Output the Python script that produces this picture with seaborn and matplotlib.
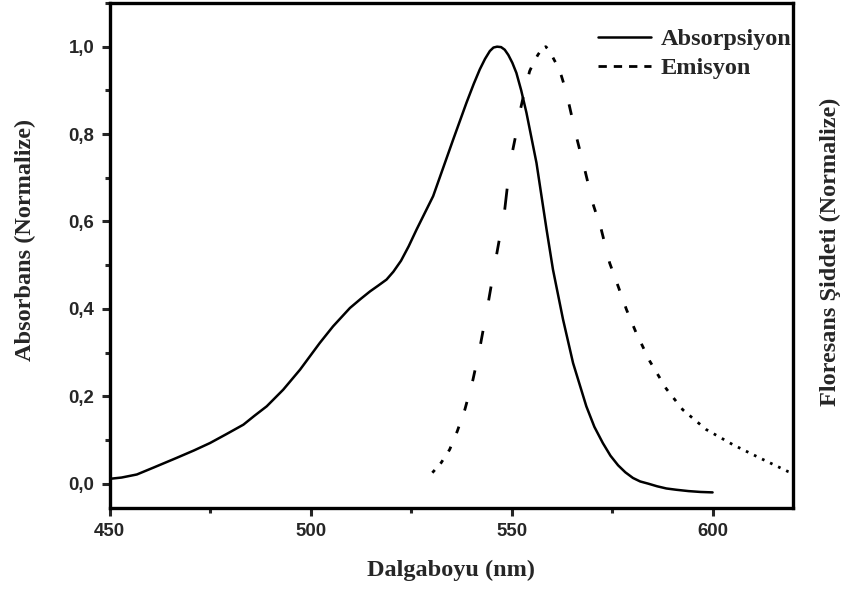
import os
import numpy as np
import pandas as pd
import matplotlib
matplotlib.use("Agg")
import matplotlib.pyplot as plt
from matplotlib import font_manager as fm
from matplotlib.lines import Line2D
from matplotlib.ticker import MultipleLocator, FuncFormatter
import seaborn as sns

# Normalized absorption spectrum
abs_wl = [450, 453, 456.8, 461, 466.7, 471, 475, 479, 483.3, 486, 489.1, 493.2,
          497.4, 502.3, 505.6, 509.8, 512.5, 514.8, 516.8, 518.9, 520.6, 522.5,
          524.4, 526.4, 530.5, 535.5, 538.8, 540.6, 542.1, 543.4, 544.6, 545.5,
          546.4, 547.4, 548.3, 549.2, 550.2, 551.2, 552.4, 553.7, 556.2, 558.7,
          560.3, 562.8, 565.3, 568.6, 570.6, 572.7, 574.6, 576.5, 578.3, 580.2,
          582, 584, 586.2, 588.5, 591, 594, 597, 600]
abs_val = [0.011, 0.014, 0.021, 0.037, 0.059, 0.076, 0.093, 0.113, 0.135, 0.155,
           0.177, 0.215, 0.261, 0.322, 0.36, 0.402, 0.423, 0.44, 0.453, 0.467,
           0.485, 0.51, 0.543, 0.582, 0.658, 0.788, 0.872, 0.915, 0.948, 0.972,
           0.99, 0.998, 1.0, 0.999, 0.993, 0.981, 0.963, 0.94, 0.9, 0.849,
           0.734, 0.582, 0.49, 0.376, 0.276, 0.177, 0.13, 0.093, 0.064, 0.042,
           0.026, 0.013, 0.005, 0.0, -0.006, -0.011, -0.014, -0.017, -0.019, -0.02]

# Normalized emission spectrum
em_wl = [530.3, 532.5, 534.6, 536.5, 538.4, 540.4, 542.1, 544.2, 546.2, 547.1,
         548.3, 548.9, 550, 551, 552.2, 553.4, 554.5, 555.6, 556.6, 557.6,
         558.5, 559.4, 560.3, 561.4, 562.4, 563.5, 564.5, 566.1, 568.2, 570.3,
         572.3, 574.4, 576.5, 578.6, 581, 584.4, 588.5, 592.6, 598.4, 605.1,
         611.7, 618.7, 620]
em_val = [0.025, 0.048, 0.078, 0.12, 0.17, 0.238, 0.31, 0.414, 0.52, 0.566,
          0.627, 0.675, 0.75, 0.795, 0.856, 0.905, 0.944, 0.966, 0.982, 0.995,
          1.0, 0.992, 0.975, 0.956, 0.933, 0.9, 0.86, 0.795, 0.719, 0.639,
          0.582, 0.505, 0.452, 0.398, 0.345, 0.28, 0.217, 0.169, 0.124, 0.089,
          0.059, 0.028, 0.024]

x_ticks = [450, 500, 550, 600]
y_ticks = [0.0, 0.2, 0.4, 0.6, 0.8, 1.0]


def font_file(name):
    for path in fm.findSystemFonts():
        if os.path.basename(path).lower() == name.lower():
            return path
    return None


serif_bold_path = font_file("LiberationSerif-Bold.ttf")
if serif_bold_path:
    label_font = fm.FontProperties(fname=serif_bold_path, size=17.5)
else:
    label_font = fm.FontProperties(family="Liberation Serif", weight="bold", size=17.5)

sns.set_theme(style="ticks")
plt.rcParams["font.family"] = ["Liberation Sans", "DejaVu Sans"]
plt.rcParams["font.weight"] = "bold"

fig = plt.figure(figsize=(8.61, 5.94), dpi=100)
ax = fig.add_axes([0.1272, 0.1453, 0.7938, 0.8497])

df_abs = pd.DataFrame({"wl": abs_wl, "val": abs_val})
sns.lineplot(data=df_abs, x="wl", y="val", ax=ax, color="black", lw=1.8,
             estimator=None, sort=False)

# Emission drawn as dashes of fixed width along the wavelength axis
period, on = 2.0, 0.6
pieces = []
start = em_wl[0]
k = 0
while start < em_wl[-1]:
    a, b = start, min(start + on, em_wl[-1])
    inner = [w for w in em_wl if a < w < b]
    xs = [a] + inner + [b]
    ys = np.interp(xs, em_wl, em_val)
    for xx, yy in zip(xs, ys):
        pieces.append((k, xx, yy))
    k += 1
    start += period
df_em = pd.DataFrame(pieces, columns=["dash", "wl", "val"])
sns.lineplot(data=df_em, x="wl", y="val", units="dash", estimator=None,
             ax=ax, color="black", lw=2.0, sort=False,
             solid_capstyle="butt")

ax.set_xlim(450, 620)
ax.set_ylim(-0.055, 1.10)
ax.set_xticks(x_ticks)
ax.set_yticks(y_ticks)
ax.xaxis.set_minor_locator(MultipleLocator(25))
ax.yaxis.set_minor_locator(MultipleLocator(0.1))
ax.yaxis.set_major_formatter(FuncFormatter(lambda v, p: f"{v:.1f}".replace(".", ",")))
ax.tick_params(which="major", direction="out", length=6, width=2.2, pad=5,
               labelsize=13.4)
ax.tick_params(which="minor", direction="out", length=3.5, width=2.2)
ax.tick_params(top=False, right=False)
for sp in ax.spines.values():
    sp.set_visible(True)
    sp.set_linewidth(2.4)
    sp.set_color("black")

ax.set_xlabel("")
ax.set_ylabel("")
fig.text(451 / 861, 1 - 570 / 594, "Dalgaboyu (nm)", fontproperties=label_font,
         ha="center", va="center")
fig.text(25 / 861, 1 - 240 / 594, "Absorbans (Normalize)", fontproperties=label_font,
         rotation=90, ha="center", va="center")
fig.text(830 / 861, 1 - 252 / 594, "Floresans Şiddeti (Normalize)",
         fontproperties=label_font, rotation=90, ha="center", va="center")

handles = [Line2D([], [], color="black", lw=1.8),
           Line2D([], [], color="black", lw=2.0, dashes=(3, 2.5))]
leg = ax.legend(handles, ["Absorpsiyon", "Emisyon"], loc="upper left",
                bbox_to_anchor=(598 / 861, 1 - 28 / 594),
                bbox_transform=fig.transFigure,
                frameon=False, prop=label_font, borderpad=0, borderaxespad=0,
                handlelength=2.2, handletextpad=0.37, labelspacing=0.3)

fig.savefig("out.png", dpi=100)
